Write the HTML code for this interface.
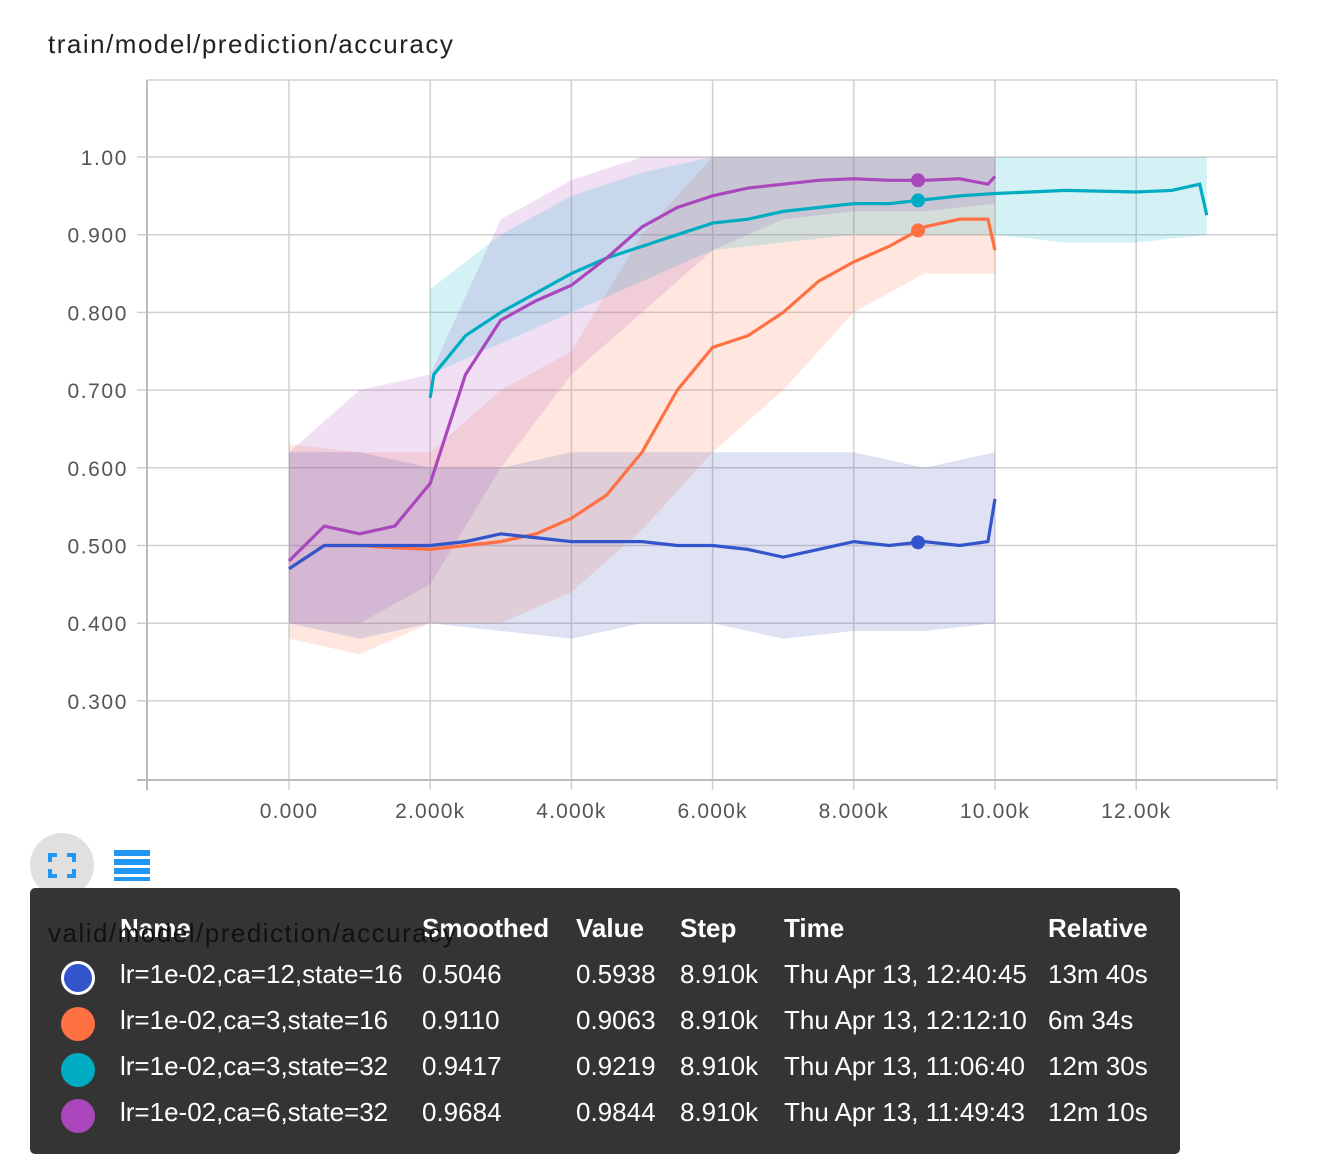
<!DOCTYPE html>
<html><head><meta charset="utf-8"><style>
body{margin:0;width:1330px;height:1156px;background:#fff;font-family:"Liberation Sans",sans-serif;position:relative;overflow:hidden}
.t{position:absolute}
</style></head><body>
<div class="t" style="left:48px;top:29px;font-size:26px;letter-spacing:1.5px;color:#222">train/model/prediction/accuracy</div>
<svg id="chart" width="1330" height="840" style="position:absolute;left:0;top:0"></svg>
<div class="t" style="left:30px;top:833px;width:64px;height:64px;border-radius:50%;background:#e0e0e0">
<svg width="64" height="64"><g stroke="#2196f3" stroke-width="4" fill="none"><path d="M20 29v-7h7M37 22h7v7M44 36v7h-7M27 43h-7v-7"/></g></svg></div>
<div class="t" style="left:114px;top:850px;width:36px;height:32px">
<svg width="36" height="32"><g fill="#2196f3"><rect x="0" y="0" width="36" height="6"/><rect x="0" y="9" width="36" height="6"/><rect x="0" y="18" width="36" height="6"/><rect x="0" y="27" width="36" height="4"/></g></svg></div>
<div class="t" style="left:30px;top:888px;width:1150px;height:266px;background:rgba(45,45,45,0.97);border-radius:5px;color:#fff;font-size:26px">
<div id="rows"></div></div>
<div class="t" style="left:48px;top:918px;font-size:26px;letter-spacing:1.5px;color:#111;z-index:1">valid/model/prediction/accuracy</div>
<script>
const steps=[0,0.5,1,1.5,2,2.5,3,3.5,4,4.5,5,5.5,6,6.5,7,7.5,8,8.5,9,9.5,9.9,10];
const blueS=[0.47,0.50,0.50,0.50,0.50,0.505,0.515,0.51,0.505,0.505,0.505,0.50,0.50,0.495,0.485,0.495,0.505,0.50,0.505,0.50,0.505,0.56];
const orangeS=[0.47,0.50,0.50,0.497,0.495,0.50,0.505,0.515,0.535,0.565,0.62,0.70,0.755,0.77,0.80,0.84,0.865,0.885,0.91,0.92,0.92,0.88];
const purpleS=[0.48,0.525,0.515,0.525,0.58,0.72,0.79,0.815,0.835,0.87,0.91,0.935,0.95,0.96,0.965,0.97,0.972,0.97,0.97,0.972,0.965,0.975];
const cyanSteps=[2,2.05,2.5,3,3.5,4,4.5,5,5.5,6,6.5,7,7.5,8,8.5,9,9.5,10,11,12,12.5,12.9,13];
const cyanS=[0.69,0.72,0.77,0.80,0.825,0.85,0.87,0.885,0.90,0.915,0.92,0.93,0.935,0.94,0.94,0.945,0.95,0.953,0.957,0.955,0.957,0.965,0.925];
const envSteps=[0,1,2,3,4,5,6,7,8,9,10];
const blueHi=[0.62,0.62,0.60,0.60,0.62,0.62,0.62,0.62,0.62,0.60,0.62];
const blueLo=[0.40,0.38,0.40,0.39,0.38,0.40,0.40,0.38,0.39,0.39,0.40];
const orangeHi=[0.63,0.62,0.62,0.70,0.75,0.90,1.0,1.0,1.0,1.0,1.0];
const orangeLo=[0.38,0.36,0.40,0.40,0.44,0.52,0.62,0.70,0.80,0.85,0.85];
const purpleHi=[0.62,0.70,0.72,0.92,0.97,1.0,1.0,1.0,1.0,1.0,1.0];
const purpleLo=[0.40,0.40,0.45,0.60,0.72,0.80,0.88,0.92,0.93,0.93,0.94];
const cyanEnvSteps=[2,3,4,5,6,8,10,11,12,13];
const cyanHi=[0.83,0.90,0.95,0.98,1.0,1.0,1.0,1.0,1.0,1.0];
const cyanLo=[0.72,0.76,0.80,0.84,0.88,0.90,0.90,0.89,0.89,0.90];
const yTicks=[1.0,0.9,0.8,0.7,0.6,0.5,0.4,0.3];
const yLabels=["1.00","0.900","0.800","0.700","0.600","0.500","0.400","0.300"];
const xTicks=[0,2,4,6,8,10,12];
const xLabels=["0.000","2.000k","4.000k","6.000k","8.000k","10.00k","12.00k"];
const dotStep=8.91;
const X=s=>289+s*70.6, Y=v=>157+(1-v)*777;
const svg=document.getElementById('chart');const NS='http://www.w3.org/2000/svg';
function mk(t,a){const e=document.createElementNS(NS,t);for(const k in a)e.setAttribute(k,a[k]);svg.appendChild(e);return e;}
for(let i=0;i<yTicks.length;i++){const y=Y(yTicks[i]);
 const g=mk('line',{x1:137,x2:1277,y1:y,y2:y,stroke:'#d0d0d0','stroke-width':1.5});
 
 
 const t=mk('text',{x:128,y:y+8,'text-anchor':'end','font-size':21,'letter-spacing':1.6,fill:'#555'});t.textContent=yLabels[i];
 
 }
for(let i=0;i<xTicks.length;i++){const x=X(xTicks[i]);
 const g=mk('line',{x1:x,x2:x,y1:80,y2:790,stroke:'#d0d0d0','stroke-width':1.5});
 
 
 const t=mk('text',{x:x,y:818,'text-anchor':'middle','font-size':21,'letter-spacing':1.2,fill:'#555'});t.textContent=xLabels[i];
 
 }
mk('line',{x1:147,x2:147,y1:80,y2:790,stroke:'#bbb','stroke-width':2});
mk('line',{x1:137,x2:1277,y1:780,y2:780,stroke:'#bbb','stroke-width':2});
mk('line',{x1:1277,x2:1277,y1:80,y2:790,stroke:'#d0d0d0','stroke-width':1.5});
mk('line',{x1:147,x2:1277,y1:80,y2:80,stroke:'#d0d0d0','stroke-width':1.5});
function env(xs,hi,lo,col,name){let p=xs.map((s,i)=>X(s)+','+Y(hi[i]));p=p.concat(xs.map((s,i)=>X(s)+','+Y(lo[i])).reverse());
 const e=mk('polygon',{points:p.join(' '),fill:col,'fill-opacity':0.17});
 
 }
env(envSteps,orangeHi,orangeLo,'#ff7043','orange-raw-band');
env(envSteps,purpleHi,purpleLo,'#ab47bc','purple-raw-band');
env(cyanEnvSteps,cyanHi,cyanLo,'#00acc1','cyan-raw-band');
env(envSteps,blueHi,blueLo,'#3f51b5','blue-raw-band');
function line(xs,vs,col,name){const e=mk('polyline',{points:xs.map((s,i)=>X(s)+','+Y(vs[i])).join(' '),fill:'none',stroke:col,'stroke-width':3.2});
 
 
 let j=0;while(j<xs.length-1&&xs[j+1]<dotStep)j++;const f=(dotStep-xs[j])/(xs[j+1]-xs[j]);const v=vs[j]+f*(vs[j+1]-vs[j]);
 const d=mk('circle',{cx:X(dotStep),cy:Y(v),r:7,fill:col});
 
 }
line(steps,orangeS,'#ff7043','orange-smoothed-line');
line(cyanSteps,cyanS,'#00acc1','cyan-smoothed-line');
line(steps,purpleS,'#ab47bc','purple-smoothed-line');
line(steps,blueS,'#3355cc','blue-smoothed-line');
const names=["lr=1e-02,ca=12,state=16","lr=1e-02,ca=3,state=16","lr=1e-02,ca=3,state=32","lr=1e-02,ca=6,state=32"];
const cols=["#3355cc","#ff7043","#00acc1","#ab47bc"];
const smoothed=["0.5046","0.9110","0.9417","0.9684"];
const vals=["0.5938","0.9063","0.9219","0.9844"];
const stepsT=["8.910k","8.910k","8.910k","8.910k"];
const times=["Thu Apr 13, 12:40:45","Thu Apr 13, 12:12:10","Thu Apr 13, 11:06:40","Thu Apr 13, 11:49:43"];
const rel=["13m 40s","6m 34s","12m 30s","12m 10s"];
const colX=[90,392,546,650,754,1018];
const rows=document.getElementById('rows');
function cell(x,y,txt,bold,name){const d=document.createElement('div');d.className='t';d.style.left=x+'px';d.style.top=y+'px';if(bold)d.style.fontWeight='bold';d.style.whiteSpace='nowrap';d.textContent=txt;
 
 
 rows.appendChild(d);}
["Name","Smoothed","Value","Step","Time","Relative"].forEach((h,i)=>cell(colX[i],25,h,true,'header-'+h.toLowerCase()));
for(let r=0;r<4;r++){const y=71+r*46;
 const c=document.createElement('div');c.className='t';c.style.cssText=`left:31px;top:${y+2}px;width:34px;height:34px;border-radius:50%;background:${cols[r]};box-sizing:border-box;`+(r==0?'border:3px solid #fff':'');
 
 
 rows.appendChild(c);
 [names[r],smoothed[r],vals[r],stepsT[r],times[r],rel[r]].forEach((t,i)=>cell(colX[i],y,t,false,'row-cell'));}
</script>
</body></html>
